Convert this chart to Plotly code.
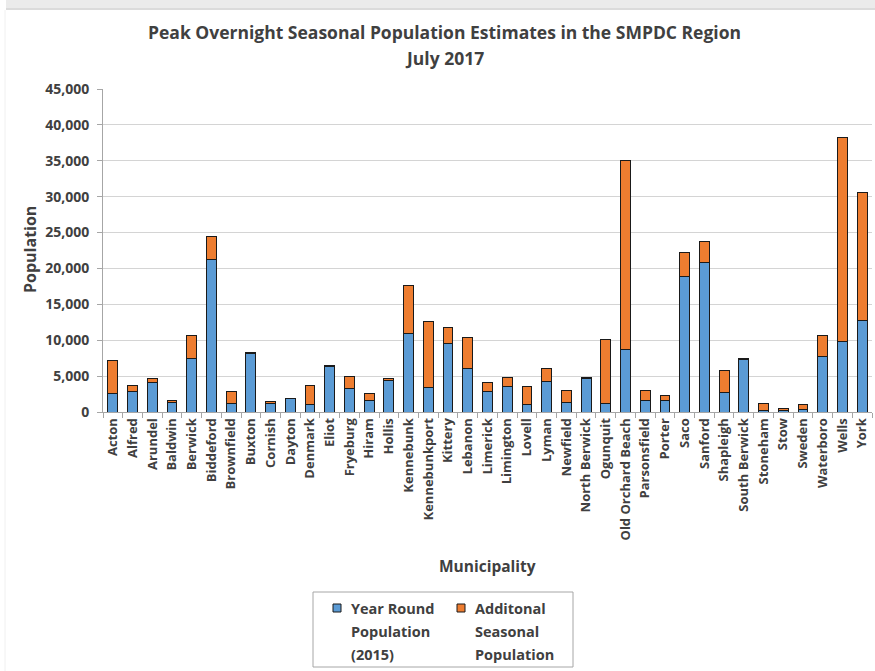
import plotly.graph_objects as go

municipalities = [
    "Acton", "Alfred", "Arundel", "Baldwin", "Berwick", "Biddeford", "Brownfield",
    "Buxton", "Cornish", "Dayton", "Denmark", "Eliot", "Fryeburg", "Hiram", "Hollis",
    "Kennebunk", "Kennebunkport", "Kittery", "Lebanon", "Limerick", "Limington",
    "Lovell", "Lyman", "Newfield", "North Berwick", "Ogunquit", "Old Orchard Beach",
    "Parsonsfield", "Porter", "Saco", "Sanford", "Shapleigh", "South Berwick",
    "Stoneham", "Stow", "Sweden", "Waterboro", "Wells", "York",
]

year_round_2015 = [
    2550, 2900, 4050, 1350, 7400, 21200, 1200,
    8100, 1250, 1900, 1100, 6300, 3300, 1650, 4350,
    11000, 3450, 9500, 6000, 2800, 3600,
    1000, 4300, 1350, 4600, 1250, 8650,
    1650, 1650, 18850, 20850, 2650, 7250,
    200, 150, 330, 7700, 9800, 12750,
]

additional_seasonal = [
    4650, 860, 550, 280, 3200, 3250, 1700,
    150, 150, 50, 2550, 150, 1700, 900, 250,
    6600, 9150, 2250, 4350, 1250, 1150,
    2500, 1700, 1600, 150, 8900, 26450,
    1400, 600, 3400, 2900, 3200, 150,
    950, 400, 650, 2950, 28500, 17800,
]

y_ticks = [0, 5000, 10000, 15000, 20000, 25000, 30000, 35000, 40000, 45000]

title_lines = ["Peak Overnight Seasonal Population Estimates in the SMPDC Region", "July 2017"]
legend_year_round = ["Year Round", "Population", "(2015)"]
legend_seasonal = ["Additonal", "Seasonal", "Population"]

BLUE = "#5B9BD5"
ORANGE = "#EE7D30"
TEXT = "#404040"
AXIS = "#a6a6a6"
FONT = "Open Sans"

W, H = 875, 671
L, R, T, B = 103, 3, 89, 259
PW, PH = W - L - R, H - T - B


def px(x):
    """Horizontal pixel position -> paper fraction."""
    return (x - L) / PW


def py(y):
    """Vertical pixel position (from top) -> paper fraction."""
    return (H - B - y) / PH


fig = go.Figure()
fig.add_trace(go.Bar(
    x=municipalities, y=year_round_2015, name="Year Round Population (2015)",
    marker=dict(color=BLUE, line=dict(color="#1a1a1a", width=1)),
))
fig.add_trace(go.Bar(
    x=municipalities, y=additional_seasonal, name="Additonal Seasonal Population",
    marker=dict(color=ORANGE, line=dict(color="#1a1a1a", width=1)),
))

annotations = []
# two-line title
for text, yc, in zip(title_lines, [32, 58]):
    annotations.append(dict(
        text=text, xref="paper", yref="paper", x=px(444), y=py(yc),
        xanchor="center", yanchor="middle", showarrow=False,
        font=dict(family=FONT, size=17.5, color=TEXT, weight="bold"),
    ))
# axis titles
annotations.append(dict(
    text="Municipality", xref="paper", yref="paper", x=px(487), y=py(566),
    xanchor="center", yanchor="middle", showarrow=False,
    font=dict(family=FONT, size=15.5, color=TEXT, weight="bold"),
))
annotations.append(dict(
    text="Population", xref="paper", yref="paper", x=px(30), y=py(250),
    xanchor="center", yanchor="middle", showarrow=False, textangle=-90,
    font=dict(family=FONT, size=16, color=TEXT, weight="bold"),
))
# legend entries
for lines, x0 in [(legend_year_round, 349), (legend_seasonal, 473)]:
    for text, yc in zip(lines, [608, 631, 654]):
        annotations.append(dict(
            text=text, xref="paper", yref="paper", x=px(x0), y=py(yc),
            xanchor="left", yanchor="middle", showarrow=False,
            font=dict(family=FONT, size=14.5, color=TEXT, weight="bold"),
        ))

shapes = [
    # soft grey band along the top edge
    dict(type="rect", xref="paper", yref="paper",
         x0=px(6), x1=px(W), y0=py(10), y1=py(0),
         fillcolor="#ebebeb", line=dict(width=0), layer="below"),
    dict(type="line", xref="paper", yref="paper",
         x0=px(6), x1=px(W), y0=py(9), y1=py(9),
         line=dict(color="#d6d6d6", width=1.5), layer="below"),
    dict(type="line", xref="paper", yref="paper",
         x0=px(5), x1=px(5), y0=py(10), y1=py(H),
         line=dict(color="#f0f0f0", width=1), layer="below"),
    # legend frame
    dict(type="rect", xref="paper", yref="paper",
         x0=px(313), x1=px(573), y0=py(667), y1=py(592),
         fillcolor="white", line=dict(color=AXIS, width=1)),
    # legend swatches
    dict(type="rect", xref="paper", yref="paper",
         x0=px(333), x1=px(341), y0=py(612), y1=py(604),
         fillcolor=BLUE, line=dict(color="#1a1a1a", width=1)),
    dict(type="rect", xref="paper", yref="paper",
         x0=px(457), x1=px(465), y0=py(612), y1=py(604),
         fillcolor=ORANGE, line=dict(color="#1a1a1a", width=1)),
]

fig.update_layout(
    width=W, height=H,
    barmode="stack", bargap=0.5,
    paper_bgcolor="white", plot_bgcolor="white",
    margin=dict(l=L, r=R, t=T, b=B),
    font=dict(family=FONT, color=TEXT),
    showlegend=False,
    xaxis=dict(
        tickangle=-90,
        tickfont=dict(family=FONT, size=13, color=TEXT, weight="bold"),
        ticks="outside", tickson="boundaries", ticklen=5, tickcolor=AXIS,
        showline=True, linecolor=AXIS, linewidth=1,
    ),
    yaxis=dict(
        range=[0, 45000], tickvals=y_ticks, tickformat=",",
        tickfont=dict(family=FONT, size=14, color=TEXT, weight="bold"),
        ticks="outside", ticklen=5, tickcolor=AXIS, ticklabelstandoff=5,
        showline=True, linecolor=AXIS, linewidth=1,
        showgrid=True, gridcolor="#d4d4d4", gridwidth=1,
        zeroline=False,
    ),
    annotations=annotations,
    shapes=shapes,
)

fig.write_html("out.html")
